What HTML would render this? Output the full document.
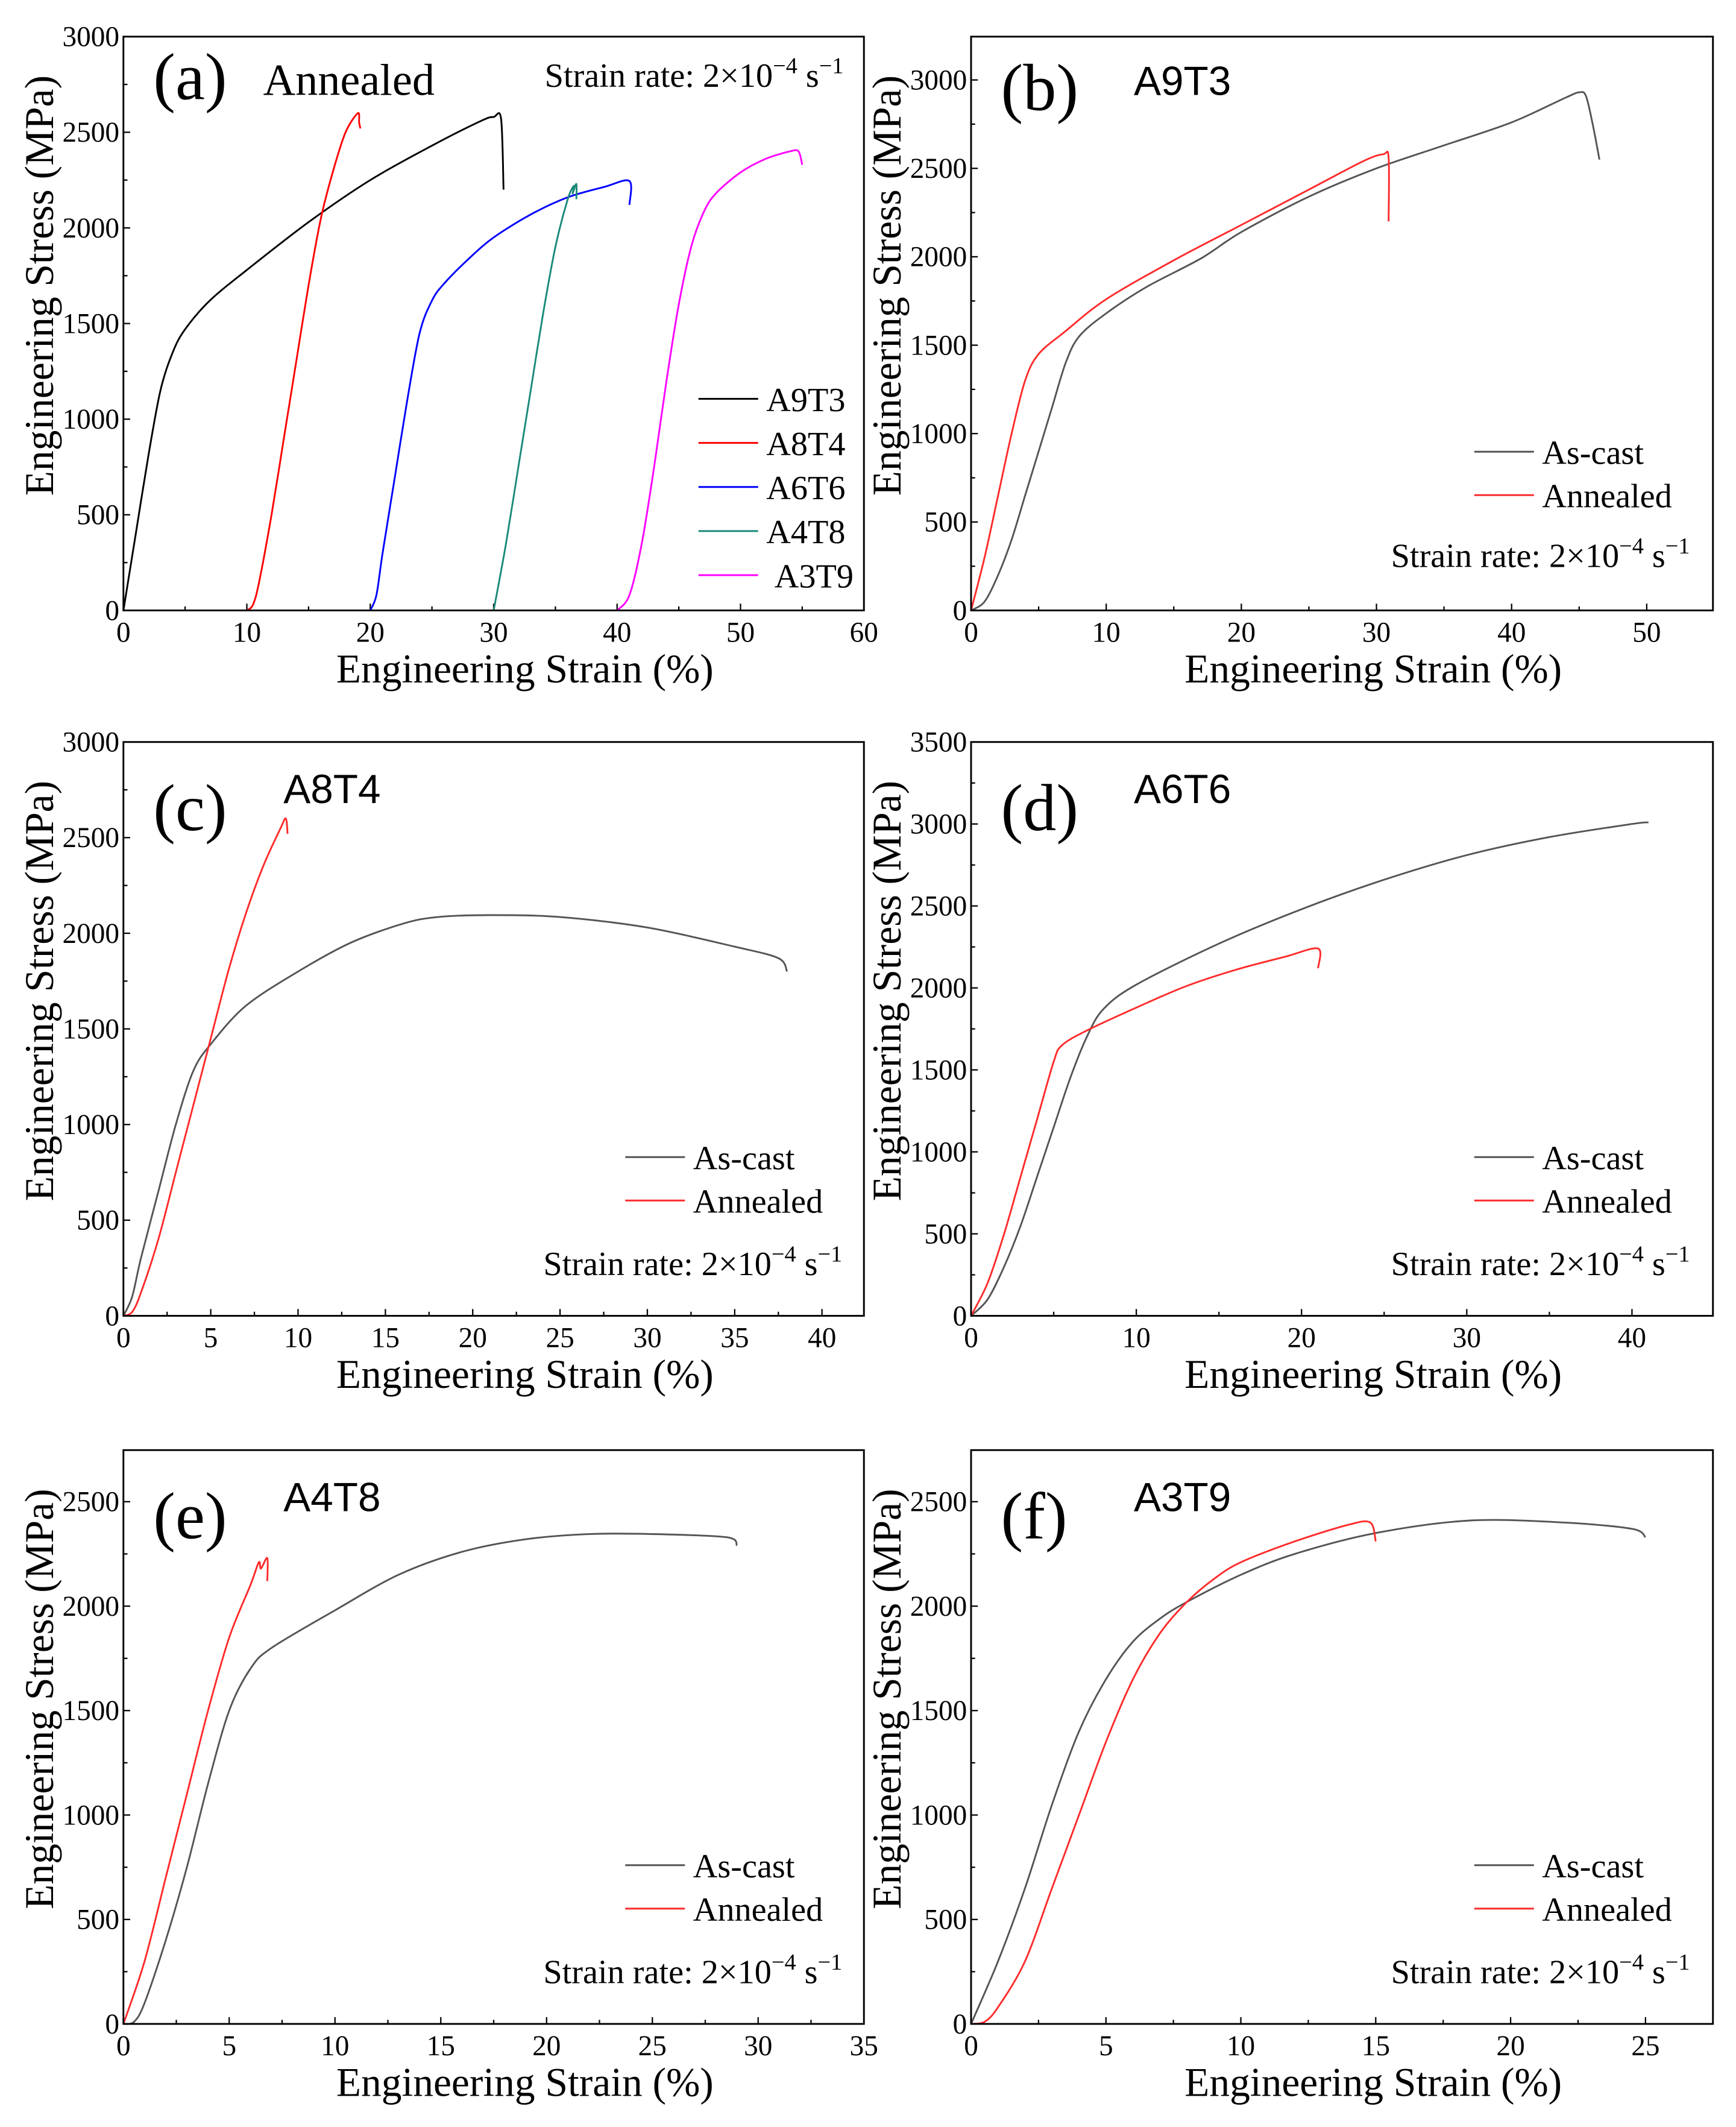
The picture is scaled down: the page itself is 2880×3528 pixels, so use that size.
<!DOCTYPE html>
<html><head><meta charset="utf-8"><style>
html,body{margin:0;padding:0;background:#fff;}
svg{display:block;}
text{font-family:"Liberation Serif",serif;fill:#000;}
</style></head><body>
<svg id="fig" width="2880" height="3528" viewBox="0 0 1280 1568" xmlns="http://www.w3.org/2000/svg"></svg>
<script>
// ---- data (strain %, stress MPa) ----
const aA9T3x=[0,1,2,3,4,5,7,10,15,20,25,29,30,30.6,30.8];
const aA9T3y=[0,400,800,1150,1350,1470,1620,1780,2030,2250,2430,2560,2580,2570,2200];
const aA8T4x=[10,10.5,11,12,13,14,15,16,17,18,19,19.1,19.2];
const aA8T4y=[0,30,150,500,900,1300,1700,2050,2300,2500,2600,2550,2520];
const aA6T6x=[20,20.5,21,22,23,24,25,26,28,30,33,36,39,41,41];
const aA6T6y=[0,80,300,700,1100,1450,1620,1710,1840,1950,2070,2160,2215,2245,2120];
const aA4T8x=[30,31,32,33,34,35,36,36.5,36.4,36.7,36.7];
const aA4T8y=[0,350,750,1150,1550,1900,2150,2220,2180,2230,2150];
const aA3T9x=[40,41,42,43,44,45,46,47,48,50,52,54,54.7,55];
const aA3T9y=[0,80,350,750,1200,1600,1900,2080,2180,2290,2360,2400,2400,2330];

const bCastX=[0,1,2,3,4,5,6,7,8,10,13,17,20,25,30,35,40,44,45,45.5,46,46.5];
const bCastY=[0,50,200,400,650,900,1150,1400,1550,1680,1830,1990,2140,2340,2500,2630,2760,2900,2930,2910,2750,2550];
const bAnnX=[0,1,2,3,4,5,7,10,15,20,25,29,30.5,30.9,30.9];
const bAnnY=[0,300,650,1000,1300,1450,1580,1760,1980,2180,2380,2540,2580,2560,2200];

const cCastX=[0,0.5,1,2,3,4,5,7,10,13,16,18,21,25,30,35,37.5,38];
const cCastY=[0,100,300,650,1000,1280,1420,1620,1800,1950,2050,2085,2095,2085,2030,1930,1870,1800];
const cAnnX=[0,0.5,1,2,3,4,5,6,7,8,9,9.3,9.4];
const cAnnY=[0,20,120,400,750,1100,1450,1800,2100,2350,2550,2600,2520];

const dCastX=[0,1,2,3,4,5,6,7,8,10,15,20,25,30,35,40,41];
const dCastY=[0,100,300,550,850,1150,1450,1700,1870,2020,2270,2480,2660,2810,2920,3000,3010];
const dAnnX=[0,1,2,3,4,5,5.5,7,10,13,16,19,21,21];
const dAnnY=[0,200,500,850,1200,1550,1650,1740,1880,2010,2110,2190,2240,2120];

const eCastX=[0,0.5,1,2,3,4,5,6,7,10,13,16,19,22,25,28.5,29];
const eCastY=[0,10,100,400,750,1150,1500,1700,1800,1980,2150,2260,2320,2345,2345,2330,2290];
const eAnnX=[0,1,2,3,4,5,6,6.4,6.5,6.8,6.8];
const eAnnY=[0,300,700,1100,1500,1850,2100,2210,2180,2230,2120];

const fCastX=[0,1,2,3,4,5,6,7,8,10,12,15,18.5,22,24.5,25];
const fCastY=[0,300,650,1050,1400,1650,1830,1940,2020,2150,2250,2350,2410,2400,2370,2330];
const fAnnX=[0,0.5,1,2,3,4,5,6,7,8,9,10,12,14,14.8,15];
const fAnnY=[0,10,80,300,650,1000,1350,1650,1870,2020,2130,2210,2310,2390,2400,2310];

// tick labels
const ticksXa=[0,10,20,30,40,50,60], ticksYa=[0,500,1000,1500,2000,2500,3000];
const ticksXb=[0,10,20,30,40,50], ticksYb=[0,500,1000,1500,2000,2500,3000];
const ticksXc=[0,5,10,15,20,25,30,35,40], ticksYc=[0,500,1000,1500,2000,2500,3000];
const ticksXd=[0,10,20,30,40], ticksYd=[0,500,1000,1500,2000,2500,3000,3500];
const ticksXe=[0,5,10,15,20,25,30,35], ticksYe=[0,500,1000,1500,2000,2500];
const ticksXf=[0,5,10,15,20,25], ticksYf=[0,500,1000,1500,2000,2500];

const NS="http://www.w3.org/2000/svg";
const svg=document.getElementById('fig');
function mk(tag,attrs,parent){const e=document.createElementNS(NS,tag);for(const k in attrs)e.setAttribute(k,attrs[k]);(parent||svg).appendChild(e);return e;}

function smoothPath(P){
  let d='M'+P[0][0].toFixed(2)+' '+P[0][1].toFixed(2);
  for(let i=0;i<P.length-1;i++){
    const p0=P[Math.max(0,i-1)],p1=P[i],p2=P[i+1],p3=P[Math.min(P.length-1,i+2)];
    const t=0.16;
    const c1=[p1[0]+(p2[0]-p0[0])*t,p1[1]+(p2[1]-p0[1])*t];
    const c2=[p2[0]-(p3[0]-p1[0])*t,p2[1]-(p3[1]-p1[1])*t];
    d+='C'+c1[0].toFixed(2)+' '+c1[1].toFixed(2)+' '+c2[0].toFixed(2)+' '+c2[1].toFixed(2)+' '+p2[0].toFixed(2)+' '+p2[1].toFixed(2);
  }
  return d;
}

function panel(cfg){
  const g=mk('g',{});
  
  
  const L=cfg.L,R=cfg.R,T=cfg.T,B=cfg.B;
  const sx=v=>L+(v-cfg.x0)/(cfg.x1-cfg.x0)*(R-L);
  const sy=v=>B-(v-cfg.y0)/(cfg.y1-cfg.y0)*(B-T);
  const xt=cfg.xt, yt=cfg.yt;
  const xstep=xt[1]-xt[0], ystep=yt[1]-yt[0];
  for(let i=0;i<xt.length;i++){
    const v=xt[i];
    const tk=mk('line',{x1:sx(v),x2:sx(v),y1:B,y2:B-5,stroke:'#000','stroke-width':1},g);
    
    
    const m=v+xstep/2;
    if(sx(m)<R){const mt=mk('line',{x1:sx(m),x2:sx(m),y1:B,y2:B-3,stroke:'#000','stroke-width':1},g);
      
      }
    const t=mk('text',{x:sx(v),y:B+23,'font-size':21,'text-anchor':'middle'},g);t.textContent=v;
    
    
  }
  for(let i=0;i<yt.length;i++){
    const v=yt[i];
    const tk=mk('line',{x1:L,x2:L+5,y1:sy(v),y2:sy(v),stroke:'#000','stroke-width':1},g);
    
    
    const m=v+ystep/2;
    if(sy(m)>T){const mt=mk('line',{x1:L,x2:L+3,y1:sy(m),y2:sy(m),stroke:'#000','stroke-width':1},g);
      
      }
    const t=mk('text',{x:L-3,y:sy(v)+7,'font-size':21,'text-anchor':'end'},g);t.textContent=v;
    
    
  }
  cfg.series.forEach(s=>{
    const P=s.x.map((x,i)=>[sx(x),sy(s.y[i])]);
    const p=mk('path',{d:smoothPath(P),fill:'none',stroke:s.c,'stroke-width':1.3,'stroke-linejoin':'round'},g);
    
    
  });
  const fr=mk('rect',{x:L,y:T,width:R-L,height:B-T,fill:'none',stroke:'#000','stroke-width':1.3},g);
  
  
  const xtl=mk('text',{x:(L+R)/2+23,y:B+53,'font-size':30,'text-anchor':'middle'},g);xtl.textContent='Engineering Strain (%)';
  
  
  const ytl=mk('text',{x:0,y:0,'font-size':30,'text-anchor':'middle',transform:'translate('+(L-52)+','+((T+B)/2-28)+') rotate(-90)'},g);ytl.textContent='Engineering Stress (MPa)';
  
  
  const pl=mk('text',{x:L+22,y:T+cfg.lblDy,'font-size':49},g);pl.textContent='('+cfg.id+')';
  
  
  const nm=mk('text',{x:L+cfg.nameDx,y:T+cfg.nameDy,'font-size':cfg.nameSize,style:'font-family:'+cfg.nameFont},g);nm.textContent=cfg.name;
  
  
  const sr=mk('text',{x:cfg.srX,y:cfg.srY,'font-size':25,'text-anchor':'end'},g);
  sr.innerHTML='Strain rate: 2×10<tspan dy="-10" font-size="17">−4</tspan><tspan dy="10"> s</tspan><tspan dy="-10" font-size="17">−1</tspan>';
  
  
  cfg.series.forEach((s,i)=>{
    const y=cfg.legY+i*cfg.legGap;
    const ll=mk('line',{x1:cfg.legX,x2:cfg.legX+44,y1:y,y2:y,stroke:s.c,'stroke-width':1.3},g);
    
    
    const lt=mk('text',{x:cfg.legX+50+(s.off||0),y:y+9,'font-size':25},g);lt.textContent=s.n;
    
    
  });
}

const cast='#555', ann='#ff2b2b';
panel({id:'a',L:91,R:637,T:27,B:450,x0:0,x1:60,y0:0,y1:3000,xt:ticksXa,yt:ticksYa,
  lblDy:46,name:'Annealed',nameDx:103,nameDy:43,nameSize:33,nameFont:'"Liberation Serif",serif',
  srX:622,srY:64,legX:515,legY:294,legGap:32.5,
  series:[{n:'A9T3',x:aA9T3x,y:aA9T3y,c:'#000'},{n:'A8T4',x:aA8T4x,y:aA8T4y,c:'#ff0000'},
          {n:'A6T6',x:aA6T6x,y:aA6T6y,c:'#0000ff'},{n:'A4T8',x:aA4T8x,y:aA4T8y,c:'#1a8a7a'},
          {n:'A3T9',x:aA3T9x,y:aA3T9y,c:'#ff00ff',off:6}]});
panel({id:'b',L:716,R:1263,T:27,B:450,x0:0,x1:54.9,y0:0,y1:3245,xt:ticksXb,yt:ticksYb,
  lblDy:54,name:'A9T3',nameDx:120,nameDy:43,nameSize:30,nameFont:'"Liberation Sans",sans-serif',
  srX:1246,srY:418,legX:1087,legY:333,legGap:32,
  series:[{n:'As-cast',x:bCastX,y:bCastY,c:cast},{n:'Annealed',x:bAnnX,y:bAnnY,c:ann}]});
panel({id:'c',L:91,R:637,T:547,B:970,x0:0,x1:42.4,y0:0,y1:3000,xt:ticksXc,yt:ticksYc,
  lblDy:65,name:'A8T4',nameDx:118,nameDy:45,nameSize:30,nameFont:'"Liberation Sans",sans-serif',
  srX:621,srY:940,legX:461,legY:853,legGap:32,
  series:[{n:'As-cast',x:cCastX,y:cCastY,c:cast},{n:'Annealed',x:cAnnX,y:cAnnY,c:ann}]});
panel({id:'d',L:716,R:1263,T:547,B:970,x0:0,x1:44.9,y0:0,y1:3500,xt:ticksXd,yt:ticksYd,
  lblDy:65,name:'A6T6',nameDx:120,nameDy:45,nameSize:30,nameFont:'"Liberation Sans",sans-serif',
  srX:1246,srY:940,legX:1087,legY:853,legGap:32,
  series:[{n:'As-cast',x:dCastX,y:dCastY,c:cast},{n:'Annealed',x:dAnnX,y:dAnnY,c:ann}]});
panel({id:'e',L:91,R:637,T:1069,B:1492,x0:0,x1:35,y0:0,y1:2747,xt:ticksXe,yt:ticksYe,
  lblDy:65,name:'A4T8',nameDx:118,nameDy:45,nameSize:30,nameFont:'"Liberation Sans",sans-serif',
  srX:621,srY:1462,legX:461,legY:1375,legGap:32,
  series:[{n:'As-cast',x:eCastX,y:eCastY,c:cast},{n:'Annealed',x:eAnnX,y:eAnnY,c:ann}]});
panel({id:'f',L:716,R:1263,T:1069,B:1492,x0:0,x1:27.5,y0:0,y1:2747,xt:ticksXf,yt:ticksYf,
  lblDy:65,name:'A3T9',nameDx:120,nameDy:45,nameSize:30,nameFont:'"Liberation Sans",sans-serif',
  srX:1246,srY:1462,legX:1087,legY:1375,legGap:32,
  series:[{n:'As-cast',x:fCastX,y:fCastY,c:cast},{n:'Annealed',x:fAnnX,y:fAnnY,c:ann}]});
</script>
</body></html>
